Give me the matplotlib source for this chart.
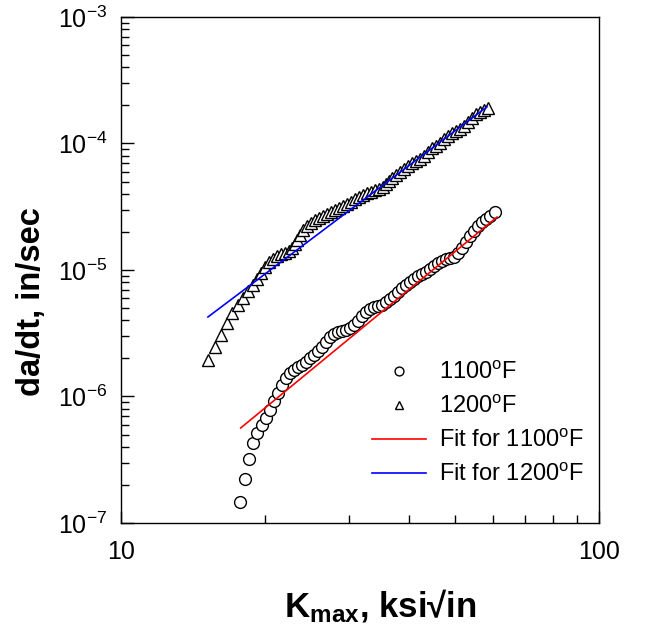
import numpy as np
import matplotlib
matplotlib.use("Agg")
import matplotlib.pyplot as plt
from matplotlib.ticker import LogLocator, NullFormatter

plt.rcParams["font.family"] = ["Liberation Sans", "DejaVu Sans"]
plt.rcParams["mathtext.fontset"] = "custom"
plt.rcParams["mathtext.rm"] = "Liberation Sans"
plt.rcParams["mathtext.it"] = "Liberation Sans:italic"
plt.rcParams["mathtext.bf"] = "Liberation Sans:bold"
plt.rcParams["axes.unicode_minus"] = False

# 1100 F data (circles)
k_1100 = [17.74, 18.17, 18.53, 18.89, 19.26, 19.72, 20.11, 20.50, 20.90, 21.30,
          21.72, 22.14, 22.57, 23.01, 23.46, 23.91, 24.38, 24.86, 25.33, 25.83,
          26.33, 26.85, 27.37, 27.90, 28.45, 29.00, 29.56, 30.14, 30.72, 31.32,
          31.93, 32.55, 33.18, 33.82, 34.48, 35.16, 35.84, 36.54, 37.25, 37.97,
          38.71, 39.47, 40.23, 41.02, 41.81, 42.63, 43.46, 44.30, 45.16, 46.04,
          46.94, 47.85, 48.78, 49.73, 50.70, 51.69, 52.70, 53.72, 54.76, 55.83,
          56.91, 58.02, 59.16, 60.59]
rate_1100 = [1.47e-7, 2.23e-7, 3.21e-7, 4.29e-7, 5.15e-7, 5.96e-7, 6.76e-7, 7.82e-7, 9.21e-7, 1.07e-6,
             1.23e-6, 1.40e-6, 1.53e-6, 1.62e-6, 1.71e-6, 1.77e-6, 1.87e-6, 2.01e-6, 2.13e-6, 2.29e-6,
             2.46e-6, 2.70e-6, 2.95e-6, 3.12e-6, 3.24e-6, 3.30e-6, 3.36e-6, 3.48e-6, 3.68e-6, 3.96e-6,
             4.33e-6, 4.66e-6, 4.92e-6, 5.10e-6, 5.19e-6, 5.29e-6, 5.58e-6, 5.90e-6, 6.23e-6, 6.70e-6,
             7.21e-6, 7.61e-6, 8.04e-6, 8.49e-6, 8.97e-6, 9.30e-6, 9.64e-6, 1.02e-5, 1.08e-5, 1.14e-5,
             1.18e-5, 1.22e-5, 1.24e-5, 1.27e-5, 1.36e-5, 1.49e-5, 1.66e-5, 1.86e-5, 2.03e-5, 2.23e-5,
             2.40e-5, 2.53e-5, 2.67e-5, 2.87e-5]

# 1200 F data (triangles)
k_1200 = [15.21, 15.73, 16.19, 16.67, 17.07, 17.57, 18.00, 18.44, 18.89, 19.26,
          19.63, 20.01, 20.40, 20.80, 21.20, 21.62, 22.03, 22.46, 22.79, 23.12,
          23.35, 23.69, 24.03, 24.49, 24.97, 25.45, 25.96, 26.46, 26.98, 27.51,
          28.04, 28.59, 29.14, 29.71, 30.29, 30.86, 31.47, 32.08, 32.70, 33.34,
          33.99, 34.65, 35.32, 35.84, 36.37, 36.89, 37.61, 38.34, 39.09, 39.85,
          40.62, 41.41, 42.22, 43.04, 43.88, 44.73, 45.60, 46.49, 47.39, 48.31,
          49.25, 50.21, 51.19, 52.19, 53.20, 54.24, 55.29, 56.37, 57.46, 58.58]
rate_1200 = [1.94e-6, 2.46e-6, 3.06e-6, 3.81e-6, 4.57e-6, 5.29e-6, 6.01e-6, 6.82e-6, 7.61e-6, 8.49e-6,
             9.47e-6, 1.06e-5, 1.16e-5, 1.22e-5, 1.29e-5, 1.34e-5, 1.36e-5, 1.41e-5, 1.49e-5, 1.61e-5,
             1.73e-5, 1.89e-5, 2.07e-5, 2.23e-5, 2.35e-5, 2.48e-5, 2.58e-5, 2.67e-5, 2.77e-5, 2.87e-5,
             2.98e-5, 3.09e-5, 3.21e-5, 3.33e-5, 3.45e-5, 3.64e-5, 3.78e-5, 3.92e-5, 4.06e-5, 4.14e-5,
             4.29e-5, 4.37e-5, 4.53e-5, 4.79e-5, 5.06e-5, 5.34e-5, 5.64e-5, 5.96e-5, 6.29e-5, 6.64e-5,
             7.01e-5, 7.27e-5, 7.54e-5, 7.96e-5, 8.57e-5, 9.21e-5, 9.55e-5, 1.01e-4, 1.09e-4, 1.15e-4,
             1.21e-4, 1.26e-4, 1.30e-4, 1.38e-4, 1.48e-4, 1.59e-4, 1.71e-4, 1.77e-4, 1.84e-4, 1.91e-4]

# power-law fits (end points)
fit_k_1100 = [17.8, 61.2]
fit_rate_1100 = [5.64e-7, 2.62e-5]
fit_k_1200 = [15.2, 58.3]
fit_rate_1200 = [4.25e-6, 1.95e-4]

labels = ["1100$^{\\rm o}$F", "1200$^{\\rm o}$F",
          "Fit for 1100$^{\\rm o}$F", "Fit for 1200$^{\\rm o}$F"]

fig = plt.figure(figsize=(6.5, 6.32), dpi=100)
ax = fig.add_axes([0.1862, 0.1725, 0.7353, 0.8006])

ax.plot(k_1100, rate_1100, linestyle="none", marker="o", markersize=8.5,
        markerfacecolor="white", markeredgecolor="black", markeredgewidth=1.0,
        label=labels[0])
ax.plot(k_1200, rate_1200, linestyle="none", marker="^", markersize=8.5,
        markerfacecolor="white", markeredgecolor="black", markeredgewidth=1.0,
        label=labels[1])
ax.plot(fit_k_1100, fit_rate_1100, color="#ff0000", linewidth=1.2, label=labels[2])
ax.plot(fit_k_1200, fit_rate_1200, color="#0000ff", linewidth=1.2, label=labels[3])

ax.set_xscale("log")
ax.set_yscale("log")
ax.set_xlim(10, 100)
ax.set_ylim(1e-7, 1e-3)

ax.yaxis.set_major_locator(LogLocator(base=10, numticks=10))
ax.yaxis.set_minor_locator(LogLocator(base=10, subs=np.arange(2, 10), numticks=10))
ax.xaxis.set_minor_formatter(NullFormatter())
ax.set_xticks([10, 100])
ax.set_xticklabels(["10", "100"])

ax.tick_params(axis="both", which="both", direction="in", top=False, right=False,
               labelsize=18, width=1.0)
ax.tick_params(axis="x", which="major", length=9, pad=12)
ax.tick_params(axis="y", which="major", length=9, pad=10)
ax.tick_params(axis="both", which="minor", length=6)
for s in ax.spines.values():
    s.set_linewidth(1.0)

ax.set_ylabel("da/dt, in/sec", fontsize=23.5, fontweight="bold")
ax.yaxis.set_label_coords(-0.155, 0.437)
ax.set_xlabel("$\\mathbf{K_{max}}$, ksi\u221ain", fontsize=25, fontweight="bold")
ax.xaxis.set_label_coords(0.542, -0.128)

leg = ax.legend(loc="upper left", bbox_to_anchor=(0.525, 0.318), frameon=False,
                fontsize=17, markerscale=0.75, handlelength=2.3, handletextpad=0.55,
                labelspacing=0.5, borderpad=0, borderaxespad=0)

fig.savefig("out.png", dpi=100)
